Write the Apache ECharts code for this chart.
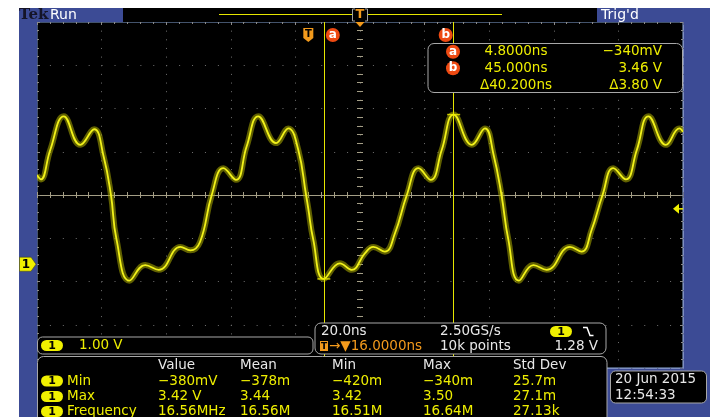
<!DOCTYPE html>
<html>
<head>
<meta charset="utf-8">
<script src="https://cdn.jsdelivr.net/npm/echarts@6/dist/echarts.min.js"></script>
<style>
  html, body { margin: 0; padding: 0; background: #fff; }
  #scope { width: 710px; height: 417px; }
</style>
</head>
<body>
<div id="scope"></div>
<script>
// Channel 1 acquisition: time in ns, voltage in V
const timeNs = [-84.0, -82.8, -79.9, -75.7, -70.6, -66.3, -63.4, -61.1, -59.4, -55.4,
  -50.5, -46.3, -39.6, -36.5, -33.5, -29.9, -26.3, -22.4, -19.1, -15.5,
  -10.0, -6.2, -3.1, -0.7, 0.0, 1.5, 4.8, 9.8, 13.4, 17.5,
  20.1, 23.7, 26.8, 30.5, 34.1, 37.9, 41.3, 45.0, 50.6, 54.7,
  57.3, 59.8, 61.9, 65.2, 69.7, 73.8, 81.0, 84.6, 87.7, 91.1,
  94.4, 98.3, 101.7, 105.3, 110.7, 114.9, 116.0];
const volts = [2.06, 1.96, 2.64, 3.42, 2.76, 3.12, 2.50, 1.60, 0.58, -0.38,
  -0.02, -0.13, 0.40, 0.32, 0.52, 1.60, 2.22, 1.95, 2.72, 3.42,
  2.80, 3.14, 2.64, 1.60, 1.28, 0.58, -0.34, 0.02, -0.13, 0.25,
  0.40, 0.29, 0.71, 1.60, 2.22, 1.95, 2.64, 3.46, 2.76, 3.14,
  2.55, 1.60, 0.58, -0.38, -0.02, -0.13, 0.40, 0.29, 0.79, 1.60,
  2.22, 1.96, 2.64, 3.42, 2.76, 3.14, 3.06];

// Horizontal / vertical setup
const timePerDiv = 20;        // ns
const horizDelay = 16;        // ns, centre of screen
const voltsPerDiv = 1.0;      // V
const screenCentreV = 1.6;    // V at the centre graticule line
const triggerLevel = 1.28;    // V

// Cursors a and b
const cursorNames = ['a', 'b'];
const cursorTimes = [4.8, 45.0];
const cursorVolts = [-0.34, 3.46];
const cursorTimeText = ['4.8000ns', '45.000ns', '\u039440.200ns'];
const cursorVoltText = ['\u2212340mV', '3.46 V', '\u03943.80 V'];

// Measurement table
const measHeaders = ['Value', 'Mean', 'Min', 'Max', 'Std Dev'];
const measNames = ['Min', 'Max', 'Frequency'];
const measMin = ['\u2212380mV', '\u2212378m', '\u2212420m', '\u2212340m', '25.7m'];
const measMax = ['3.42 V', '3.44', '3.42', '3.50', '27.1m'];
const measFreq = ['16.56MHz', '16.56M', '16.51M', '16.64M', '27.13k'];

const BLUE = '#3c4b95';
const YEL = '#eeee00';
const ORANGE = '#f39a1c';
const CURSOR_RED = '#ee4a12';
const WHITE = '#e8e8e8';
const FONT = '"DejaVu Sans", sans-serif';

const G = { left: 37, top: 22, width: 646, height: 346 };
const tMin = horizDelay - 5 * timePerDiv;
const tMax = horizDelay + 5 * timePerDiv;
const vMin = screenCentreV - 4 * voltsPerDiv;
const vMax = screenCentreV + 4 * voltsPerDiv;

const trace = timeNs.map((t, i) => [t, volts[i]]);

const chart = echarts.init(document.getElementById('scope'), null, { renderer: 'canvas' });

const tickCol = '#a49e86';
const divAxisBase = {
  type: 'value', min: -5, max: 5, interval: 1, gridIndex: 0,
  axisLabel: { show: false }, splitLine: { show: false }
};
const divYBase = {
  type: 'value', min: -4, max: 4, interval: 1, gridIndex: 0,
  axisLabel: { show: false }, splitLine: { show: false }
};

chart.setOption({
  animation: false,
  backgroundColor: '#ffffff',
  grid: {
    left: G.left, top: G.top, width: G.width, height: G.height,
    show: true, backgroundColor: '#000000', borderColor: '#86a6d8', borderWidth: 1
  },
  xAxis: [
    // centre horizontal line with fine ticks (below)
    Object.assign({}, divAxisBase, {
      position: 'bottom',
      axisLine: { show: true, onZero: true, lineStyle: { color: tickCol, width: 1 } },
      axisTick: { show: true, length: 3, lineStyle: { color: tickCol } },
      minorTick: { show: true, splitNumber: 5, length: 3, lineStyle: { color: tickCol } },
      splitLine: { show: true, lineStyle: { color: '#707070', width: 1, type: [1, 7.65] } }
    }),
    // centre horizontal line ticks (above)
    Object.assign({}, divAxisBase, {
      position: 'top',
      axisLine: { show: true, onZero: true, onZeroAxisIndex: 0, lineStyle: { opacity: 0 } },
      axisTick: { show: true, length: 3, lineStyle: { color: tickCol } },
      minorTick: { show: true, splitNumber: 5, length: 3, lineStyle: { color: tickCol } }
    }),
    // top border ticks
    Object.assign({}, divAxisBase, {
      position: 'top',
      axisLine: { show: false, onZero: false },
      axisTick: { show: true, inside: true, length: 3, lineStyle: { color: '#8a8a8a' } },
      minorTick: { show: true, splitNumber: 5, length: 2, lineStyle: { color: '#8a8a8a' } }
    }),
    // time axis of the trace
    {
      type: 'value', min: tMin, max: tMax, gridIndex: 0, show: false,
      axisLine: { onZero: false }, splitLine: { show: false }
    }
  ],
  yAxis: [
    // centre vertical ticks (left)
    Object.assign({}, divYBase, {
      position: 'left',
      axisLine: { show: true, onZero: true, lineStyle: { opacity: 0 } },
      axisTick: { show: true, length: 3, lineStyle: { color: tickCol } },
      minorTick: { show: true, splitNumber: 5, length: 3, lineStyle: { color: tickCol } },
      splitLine: { show: true, lineStyle: { color: '#707070', width: 1, type: [1, 11.92] } }
    }),
    // centre vertical ticks (right)
    Object.assign({}, divYBase, {
      position: 'right',
      axisLine: { show: true, onZero: true, onZeroAxisIndex: 0, lineStyle: { opacity: 0 } },
      axisTick: { show: true, length: 3, lineStyle: { color: tickCol } },
      minorTick: { show: true, splitNumber: 5, length: 3, lineStyle: { color: tickCol } }
    }),
    // left border ticks
    Object.assign({}, divYBase, {
      position: 'left',
      axisLine: { show: false, onZero: false },
      axisTick: { show: true, inside: true, length: 3, lineStyle: { color: '#8a8a8a' } },
      minorTick: { show: true, splitNumber: 5, length: 2, lineStyle: { color: '#8a8a8a' } }
    }),
    // right border ticks
    Object.assign({}, divYBase, {
      position: 'right',
      axisLine: { show: false, onZero: false },
      axisTick: { show: true, inside: true, length: 3, lineStyle: { color: '#8a8a8a' } },
      minorTick: { show: true, splitNumber: 5, length: 2, lineStyle: { color: '#8a8a8a' } }
    }),
    // voltage axis of the trace
    {
      type: 'value', min: vMin, max: vMax, gridIndex: 0, show: false,
      axisLine: { onZero: false }, splitLine: { show: false }
    }
  ],
  series: [
    {
      name: 'ch1 glow', type: 'line', xAxisIndex: 3, yAxisIndex: 4,
      data: trace, smooth: 0.45, showSymbol: false, silent: true, z: 3,
      lineStyle: { color: 'rgba(175,175,0,0.55)', width: 6 }
    },
    {
      name: 'ch1', type: 'line', xAxisIndex: 3, yAxisIndex: 4,
      data: trace, smooth: 0.45, showSymbol: false, silent: true, z: 4,
      lineStyle: { color: '#f2f21a', width: 1.8 },
      markLine: {
        silent: true, symbol: 'none', animation: false,
        label: { show: false },
        lineStyle: { color: '#e6e600', width: 1, type: 'solid' },
        data: cursorTimes.map(t => ({ xAxis: t }))
      }
    },
    {
      name: 'cursor points', type: 'scatter', xAxisIndex: 3, yAxisIndex: 4,
      data: cursorTimes.map((t, i) => [t, cursorVolts[i]]),
      symbol: 'rect', symbolSize: [13, 1.5], silent: true, z: 5,
      itemStyle: { color: '#f0f000' }
    }
  ]
});

// pixel helpers through the trace axes
const px = t => chart.convertToPixel({ xAxisIndex: 3 }, t);
const py = v => chart.convertToPixel({ yAxisIndex: 4 }, v);

const els = [];
const Z = 50;
function rect(x, y, w, h, fill, extra) {
  els.push(Object.assign({ type: 'rect', z: Z, shape: { x, y, width: w, height: h, r: (extra && extra.r) || 0 },
    style: { fill, stroke: (extra && extra.stroke) || null, lineWidth: 1 } }, {}));
}
function text(x, y, s, fill, opt) {
  opt = opt || {};
  els.push({ type: 'text', z: Z + 2, style: {
    text: s, x, y, fill,
    font: (opt.weight || 'normal') + ' ' + (opt.size || 13.5) + 'px ' + (opt.family || FONT),
    textAlign: opt.align || 'left', textVerticalAlign: 'middle', verticalAlign: 'middle'
  } });
}
function chanBadge(x, cy) {
  rect(x, cy - 5.5, 22, 11, '#f0f000', { r: 5.5 });
  text(x + 11, cy + 0.5, '1', '#000', { align: 'center', weight: 'bold', size: 11 });
}
function cursorBadge(cx, cy, s) {
  els.push({ type: 'circle', z: Z + 1, shape: { cx, cy, r: 7 }, style: { fill: CURSOR_RED } });
  text(cx, cy, s, '#ffffff', { align: 'center', weight: 'bold', size: 12 });
}

// frame: blue surround
rect(19, 8, 104, 14, BLUE);
rect(123, 8, 474, 14, '#000');
rect(597, 8, 113, 14, BLUE);
rect(19, 22, 18, 395, BLUE);
rect(683.5, 22, 26.5, 395, BLUE);
rect(607, 368.5, 77, 49, BLUE);

// top status bar
text(19, 15.5, 'Tek', '#141428', { weight: 'bold', size: 15, family: '"DejaVu Serif", serif' });
text(50, 15, 'Run', '#ffffff', { size: 14 });
text(601, 15, "Trig'd", '#ffffff', { size: 14 });
els.push({ type: 'line', z: Z, shape: { x1: 219, y1: 14.5, x2: 502, y2: 14.5 }, style: { stroke: '#e6e600', lineWidth: 1 } });
rect(352, 8.5, 16, 13, '#000');
els.push({ type: 'polyline', z: Z + 1, shape: { points: [[355, 9], [352.5, 9], [352.5, 21], [355, 21]] }, style: { stroke: '#a0a0a0', lineWidth: 1, fill: null } });
els.push({ type: 'polyline', z: Z + 1, shape: { points: [[365, 9], [367.5, 9], [367.5, 21], [365, 21]] }, style: { stroke: '#a0a0a0', lineWidth: 1, fill: null } });
text(360, 15, 'T', ORANGE, { align: 'center', weight: 'bold', size: 13 });
els.push({ type: 'polygon', z: Z + 1, shape: { points: [[355.5, 22], [364.5, 22], [360, 27]] }, style: { fill: ORANGE } });

// trigger position marker (t = 0)
const tx = px(0);
els.push({ type: 'polygon', z: Z + 1, shape: { points: [[tx - 5, 28], [tx + 5, 28], [tx + 5, 38], [tx, 42], [tx - 5, 38]] }, style: { fill: ORANGE } });
text(tx, 34, 'T', '#000', { align: 'center', weight: 'bold', size: 10 });

// cursor badges above the graticule
const ax = px(cursorTimes[0]);
const bx = px(cursorTimes[1]);
cursorBadge(ax + 9, 35, cursorNames[0]);
cursorBadge(bx - 8, 35, cursorNames[1]);

// channel 1 ground marker
const gy = py(0);
els.push({ type: 'polygon', z: Z + 1, shape: { points: [[19.5, gy - 7], [31, gy - 7], [36, gy], [31, gy + 7], [19.5, gy + 7]] }, style: { fill: '#f0f000', stroke: '#404000', lineWidth: 0.5 } });
text(26, gy + 0.5, '1', '#000', { align: 'center', weight: 'bold', size: 12 });

// trigger level arrow
const ty = py(triggerLevel);
els.push({ type: 'polygon', z: Z + 1, shape: { points: [[673, ty], [679, ty - 5], [679, ty + 5]] }, style: { fill: '#f0f000' } });
els.push({ type: 'line', z: Z + 1, shape: { x1: 678, y1: ty, x2: 683, y2: ty }, style: { stroke: '#f0f000', lineWidth: 1.5 } });

// cursor readout box
rect(428, 43.5, 254.5, 49, '#000', { r: 6, stroke: '#a8a8a8' });
[51.7, 68.3].forEach((y, i) => cursorBadge(453, y, cursorNames[i]));
[51.7, 68.3, 85].forEach((y, i) => {
  text(516, y, cursorTimeText[i], YEL, { align: 'center' });
  text(662, y, cursorVoltText[i], YEL, { align: 'right' });
});

// vertical scale box
rect(37.5, 337, 275.5, 17, '#000', { r: 5, stroke: '#a8a8a8' });
chanBadge(41, 345.5);
text(79, 345.5, (voltsPerDiv).toFixed(2) + ' V', YEL);

// timebase / trigger box
rect(315, 323, 291, 31, '#000', { r: 6, stroke: '#a8a8a8' });
text(321, 331.5, timePerDiv.toFixed(1) + 'ns', WHITE);
text(440, 331.5, '2.50GS/s', WHITE);
chanBadge(550, 331.5);
els.push({ type: 'polyline', z: Z + 2, shape: { points: [[583, 327.5], [587, 327.5], [590, 335.5], [593.5, 335.5]] }, style: { stroke: '#ffffff', lineWidth: 1.5, fill: null } });
rect(320, 341, 8, 10, ORANGE);
text(324, 346.5, 'T', '#000', { align: 'center', weight: 'bold', size: 9 });
text(329, 346, '\u2192\u25BC' + horizDelay.toFixed(4) + 'ns', ORANGE);
text(440, 346, '10k points', WHITE);
text(598, 346, triggerLevel.toFixed(2) + ' V', WHITE, { align: 'right' });

// measurement table
rect(37.5, 356.5, 569.5, 70, '#000', { r: 6, stroke: '#a8a8a8' });
const colX = [158, 240, 332, 423, 513];
measHeaders.forEach((h, i) => text(colX[i], 365, h, WHITE));
const rowY = [381, 396.5, 411.5];
[measMin, measMax, measFreq].forEach((row, r) => {
  chanBadge(41, rowY[r]);
  text(67, rowY[r], measNames[r], YEL);
  row.forEach((v, i) => text(colX[i], rowY[r], v, YEL));
});

// date / time box
rect(610.5, 371, 96, 32, '#000', { r: 5, stroke: '#a8a8a8' });
text(615, 379.5, '20 Jun 2015', WHITE);
text(615, 395, '12:54:33', WHITE);

chart.setOption({ graphic: { elements: els } });
</script>
</body>
</html>
